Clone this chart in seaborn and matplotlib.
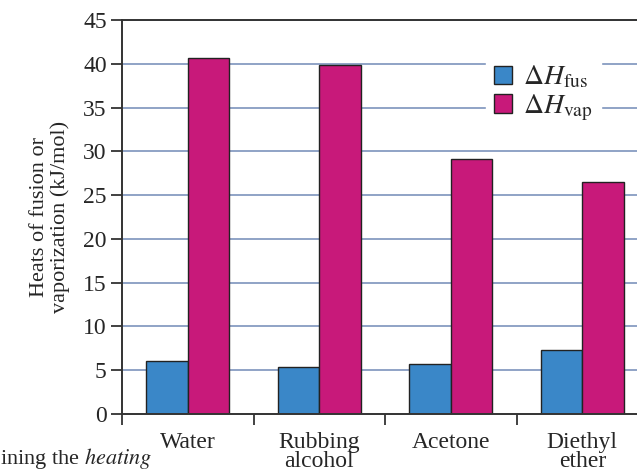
import pandas as pd
import matplotlib.pyplot as plt
import seaborn as sns
from matplotlib.ticker import FixedLocator

# heats of fusion / vaporization in kJ/mol
substances = ["Water", "Rubbing\nalcohol", "Acetone", "Diethyl\nether"]
h_fus = [6.0, 5.4, 5.7, 7.3]
h_vap = [40.7, 39.9, 29.1, 26.5]
series_labels = [r"$\Delta H_{\mathrm{fus}}$", r"$\Delta H_{\mathrm{vap}}$"]
yticks = list(range(0, 50, 5))

df = pd.DataFrame({
    "substance": substances * 2,
    "value": h_fus + h_vap,
    "kind": [series_labels[0]] * 4 + [series_labels[1]] * 4,
})

sns.set_style("white")
plt.rcParams["font.family"] = ["Liberation Serif", "DejaVu Serif"]
plt.rcParams["mathtext.fontset"] = "stix"

fig = plt.figure(figsize=(6.37, 4.73), dpi=100)
# axes run past the right edge like the cropped textbook figure
ax = fig.add_axes([122 / 637, 1 - 414 / 473, 526 / 637, 394 / 473])

ax.set_axisbelow(True)
for t in yticks[1:]:
    ax.axhline(t, color="#8fa3c6", lw=1.4, zorder=0)

sns.barplot(data=df, x="substance", y="value", hue="kind",
            palette=["#3a87c8", "#c8197a"], width=0.63,
            edgecolor="#222222", linewidth=1.0, saturation=1, ax=ax)

ax.set_xlim(-0.5, 3.5)
ax.set_ylim(0, 45)
ax.set_yticks(yticks)
ax.tick_params(axis="y", direction="out", length=8, width=1.3,
               color="#333333", labelsize=17, pad=3, left=True)
ax.tick_params(axis="x", which="major", length=0, labelsize=17, pad=13)
ax.xaxis.set_minor_locator(FixedLocator([-0.5, 0.5, 1.5, 2.5]))
ax.tick_params(axis="x", which="minor", direction="out", length=8,
               width=1.3, color="#333333", bottom=True)
for lab in ax.get_xticklabels():
    lab.set_linespacing(0.9)

for side in ["left", "bottom", "top"]:
    ax.spines[side].set_color("#333333")
    ax.spines[side].set_linewidth(1.4)
ax.spines["right"].set_visible(False)

ax.set_xlabel("")
ax.set_ylabel("Heats of fusion or\nvaporization (kJ/mol)", fontsize=16,
              va="center", linespacing=1.1)
ax.yaxis.set_label_coords(-0.137, 0.5)

leg = ax.legend(loc="upper left", bbox_to_anchor=(472 / 637, 1 - 42 / 473),
                bbox_transform=fig.transFigure, fontsize=20, frameon=True,
                framealpha=1, edgecolor="white", handlelength=0.65,
                handleheight=0.65, handletextpad=0.4, labelspacing=0.05,
                borderpad=0.3, title=None)
for h in leg.legend_handles:
    h.set_edgecolor("#222222")

# leftover line of body text at the bottom of the page
fig.text(0.0, 1 - 464 / 473, r"ining the $\mathit{heating}$", fontsize=16,
         ha="left", va="baseline")

fig.savefig("out.png", dpi=100)
